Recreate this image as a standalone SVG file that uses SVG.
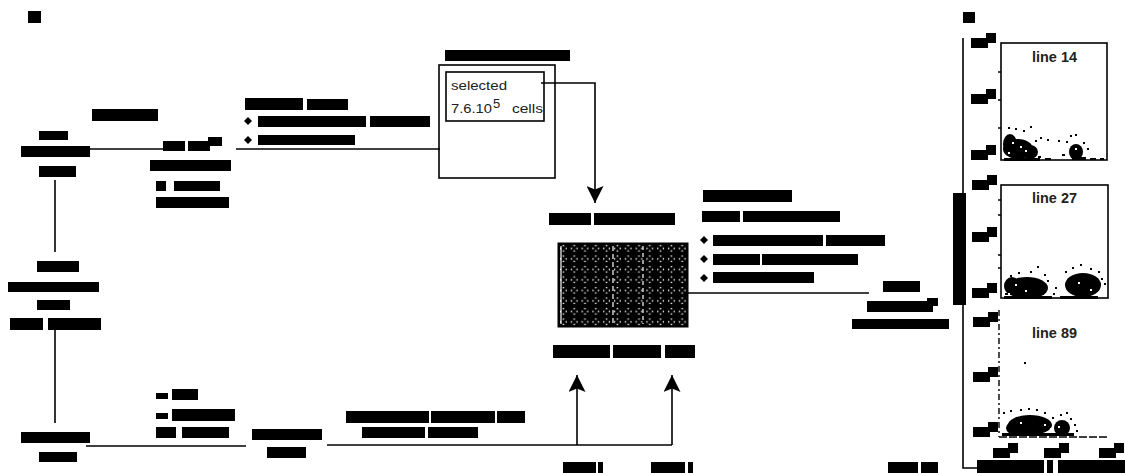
<svg xmlns="http://www.w3.org/2000/svg" width="1125" height="473" viewBox="0 0 1125 473">
<style>
.r{fill:#000}
.ln{stroke:#000;stroke-width:1.6;fill:none}
.bx{stroke:#000;stroke-width:1.6;fill:none}
.t{font-family:"Liberation Sans",Arial,sans-serif;fill:#222;font-size:13px}
.pl{font-family:"Liberation Sans",Arial,sans-serif;fill:#222;font-size:14px;font-weight:bold}
.dot{fill:#000}
</style>
<defs>
<marker id="ah" viewBox="0 0 10 10" refX="10" refY="5" markerUnits="userSpaceOnUse" markerWidth="17" markerHeight="17" orient="auto">
<path d="M0,0 L10,5 L0,10 L2,5 z" fill="#000"/>
</marker>
<pattern id="wells" x="558" y="243" width="10.8" height="10.5" patternUnits="userSpaceOnUse">
<rect width="10.8" height="10.5" fill="#000"/>
<rect x="4.6" y="2" width="1.6" height="1.2" fill="#fff"/>
<rect x="4.6" y="7.4" width="1.6" height="1.2" fill="#fff"/>
<rect x="2" y="4.6" width="1.2" height="1.6" fill="#fff"/>
<rect x="7.6" y="4.6" width="1.2" height="1.6" fill="#fff"/>
</pattern>
<g id="tl">
<rect x="0" y="5" width="17" height="10"/>
<rect x="15" y="0" width="10" height="10"/>
</g>
</defs>
<rect width="1125" height="473" fill="#fff"/>

<!-- panel labels -->
<rect class="r" x="28" y="11" width="13" height="12"/>
<rect class="r" x="963" y="12" width="12" height="11"/>

<g id="connectors">
<line class="ln" x1="90" y1="149" x2="163" y2="149"/>
<line class="ln" x1="236" y1="149" x2="440" y2="149"/>
<polyline class="ln" points="541,83 595,83 595,203" marker-end="url(#ah)"/>
<line class="ln" x1="55" y1="180" x2="55" y2="252"/>
<line class="ln" x1="55" y1="330" x2="55" y2="423"/>
<line class="ln" x1="86" y1="446" x2="246" y2="446"/>
<line class="ln" x1="327" y1="445" x2="672" y2="445"/>
<line class="ln" x1="672" y1="445" x2="672" y2="375" marker-end="url(#ah)"/>
<line class="ln" x1="577" y1="445" x2="577" y2="375" marker-end="url(#ah)"/>
<line class="ln" x1="688" y1="293" x2="869" y2="293"/>
<polyline class="ln" points="963,38 963,468 977,468"/>
</g>

<g id="node-seeding-label">
<rect class="r" x="92" y="109" width="66" height="12"/>
</g>
<g id="node-start-cells">
<rect class="r" x="39" y="131" width="29" height="9"/>
<rect class="r" x="21" y="146" width="69" height="11"/>
<rect class="r" x="39" y="166" width="37" height="11"/>
</g>
<g id="node-seeded">
<rect class="r" x="163" y="141" width="22" height="10"/>
<rect class="r" x="188" y="141" width="22" height="10"/>
<rect class="r" x="208" y="137" width="14" height="9"/>
<rect class="r" x="150" y="160" width="81" height="11"/>
<rect class="r" x="156" y="181" width="10" height="10"/>
<rect class="r" x="174" y="181" width="46" height="10"/>
<rect class="r" x="156" y="197" width="73" height="11"/>
</g>
<g id="node-activating-label">
<rect class="r" x="245" y="98" width="58" height="12"/>
<rect class="r" x="307" y="99" width="41" height="11"/>
<path class="r" d="M244,121 l4,-4 l4,4 l-4,4 z"/>
<rect class="r" x="258" y="116" width="108" height="11"/>
<rect class="r" x="370" y="116" width="60" height="11"/>
<path class="r" d="M244,140 l4,-4 l4,4 l-4,4 z"/>
<rect class="r" x="258" y="135" width="97" height="10"/>
</g>

<g id="node-magnetic">
<rect class="r" x="445" y="50" width="125" height="11"/>
<rect class="bx" x="439" y="65" width="116" height="113"/>
<rect class="bx" x="446" y="72" width="98" height="49"/>
<text class="t" x="451" y="90" textLength="56" lengthAdjust="spacingAndGlyphs">selected</text>
<text class="t" x="451" y="113" textLength="41" lengthAdjust="spacingAndGlyphs">7.6.10</text>
<text class="t" x="493" y="108" font-size="10">5</text>
<text class="t" x="512" y="113" textLength="31" lengthAdjust="spacingAndGlyphs">cells</text>
</g>

<g id="node-plate">
<rect class="r" x="549" y="213" width="42" height="12"/>
<rect class="r" x="594" y="213" width="81" height="12"/>
<rect x="558" y="243" width="130" height="84" fill="url(#wells)" stroke="#000" stroke-width="1"/>
<line x1="561" y1="246" x2="561" y2="324" stroke="#fff" stroke-width="1.2"/>
<line x1="613" y1="246" x2="613" y2="324" stroke="#fff" stroke-width="1.2" stroke-dasharray="5,3"/>
<line x1="643" y1="246" x2="643" y2="324" stroke="#fff" stroke-width="1.2" stroke-dasharray="4,3"/>
<rect class="r" x="553" y="345" width="57" height="13"/>
<rect class="r" x="613" y="345" width="48" height="13"/>
<rect class="r" x="665" y="345" width="30" height="13"/>
</g>

<g id="node-activated-label">
<rect class="r" x="703" y="190" width="89" height="12"/>
<rect class="r" x="702" y="211" width="38" height="11"/>
<rect class="r" x="743" y="211" width="97" height="11"/>
<path class="r" d="M700,240 l4,-4 l4,4 l-4,4 z"/>
<rect class="r" x="713" y="235" width="110" height="11"/>
<rect class="r" x="826" y="235" width="59" height="11"/>
<path class="r" d="M700,259 l4,-4 l4,4 l-4,4 z"/>
<rect class="r" x="713" y="254" width="47" height="11"/>
<rect class="r" x="762" y="254" width="96" height="11"/>
<path class="r" d="M700,278 l4,-4 l4,4 l-4,4 z"/>
<rect class="r" x="713" y="272" width="101" height="11"/>
</g>

<g id="node-clones">
<rect class="r" x="883" y="281" width="37" height="11"/>
<rect class="r" x="867" y="301" width="66" height="11"/>
<rect class="r" x="927" y="298" width="11" height="8"/>
<rect class="r" x="852" y="319" width="97" height="10"/>
</g>

<g id="node-small-cells">
<rect class="r" x="37" y="261" width="42" height="11"/>
<rect class="r" x="8" y="282" width="91" height="10"/>
<rect class="r" x="37" y="300" width="33" height="10"/>
<rect class="r" x="10" y="318" width="33" height="12"/>
<rect class="r" x="48" y="318" width="53" height="12"/>
</g>
<g id="node-bottom-cells">
<rect class="r" x="21" y="432" width="69" height="11"/>
<rect class="r" x="39" y="452" width="38" height="10"/>
</g>
<g id="node-culture-label">
<rect class="r" x="156" y="393" width="12" height="6"/>
<rect class="r" x="172" y="389" width="26" height="11"/>
<rect class="r" x="156" y="413" width="12" height="6"/>
<rect class="r" x="172" y="409" width="63" height="12"/>
<rect class="r" x="156" y="427" width="20" height="11"/>
<rect class="r" x="182" y="427" width="47" height="11"/>
</g>
<g id="node-feeder">
<rect class="r" x="252" y="429" width="70" height="11"/>
<rect class="r" x="267" y="447" width="39" height="11"/>
</g>
<g id="node-activation-label">
<rect class="r" x="346" y="411" width="83" height="12"/>
<rect class="r" x="431" y="411" width="64" height="12"/>
<rect class="r" x="497" y="411" width="28" height="12"/>
<rect class="r" x="362" y="427" width="63" height="11"/>
<rect class="r" x="428" y="427" width="50" height="11"/>
</g>
<g id="node-bottom-marks">
<rect class="r" x="563" y="462" width="33" height="11"/>
<rect class="r" x="598" y="462" width="5" height="11"/>
<rect class="r" x="651" y="462" width="34" height="11"/>
<rect class="r" x="688" y="462" width="5" height="11"/>
<rect class="r" x="888" y="462" width="30" height="11"/>
<rect class="r" x="921" y="462" width="17" height="11"/>
</g>

<g id="node-facs-axes">
<rect class="r" x="953" y="193" width="13" height="112"/>
<rect class="r" x="977" y="460" width="67" height="13"/>
<rect class="r" x="1047" y="460" width="6" height="13"/>
<rect class="r" x="1058" y="460" width="67" height="13"/>
</g>

<g id="node-plot-line14">
<use href="#tl" x="971" y="33"/>
<use href="#tl" x="971" y="89"/>
<use href="#tl" x="971" y="145"/>
<rect class="bx" x="1001" y="43" width="106" height="117"/>
<path class="ln" d="M998,72 h3 M998,100 h3 M998,128 h3" stroke-width="1.2"/>
<text class="pl" x="1032" y="62" textLength="45" lengthAdjust="spacingAndGlyphs">line 14</text>
<ellipse class="dot" cx="1018" cy="149" rx="15" ry="10"/>
<ellipse class="dot" cx="1010" cy="144" rx="7" ry="10"/>
<ellipse class="dot" cx="1030" cy="152" rx="8" ry="7"/>
<ellipse class="dot" cx="1076" cy="152" rx="7" ry="8"/>
<path class="dot" d="M1004,158h36v3h-36z M1072,157h14v3h-14z M1008,127h2v2h-2z M1015,128h2v2h-2z M1030,126h2v2h-2z M1023,130h2v2h-2z M1035,140h2v2h-2z M1040,137h2v2h-2z M1047,139h2v2h-2z M1058,140h2v2h-2z M1066,141h2v2h-2z M1070,135h2v2h-2z M1075,134h2v2h-2z M1083,142h2v2h-2z M1087,148h2v2h-2z M1062,154h3v2h-3z M1038,156h3v2h-3z M1045,158h6v2h-6z M1090,158h6v2h-6z M1100,158h4v2h-4z"/>
<path d="M1012,142h2v2h-2z M1020,146h2v2h-2z M1008,152h2v2h-2z M1025,150h2v2h-2z M1075,148h2v2h-2z" fill="#fff"/>
</g>

<g id="node-plot-line27">
<use href="#tl" x="972" y="175"/>
<use href="#tl" x="972" y="227"/>
<use href="#tl" x="972" y="283"/>
<rect class="bx" x="1001" y="185" width="107" height="113"/>
<path class="ln" d="M998,200 h3 M998,215 h3 M998,255 h3 M998,268 h3" stroke-width="1.2"/>
<text class="pl" x="1032" y="203" textLength="45" lengthAdjust="spacingAndGlyphs">line 27</text>
<ellipse class="dot" cx="1027" cy="288" rx="21" ry="11"/>
<ellipse class="dot" cx="1012" cy="286" rx="8" ry="9"/>
<ellipse class="dot" cx="1083" cy="285" rx="18" ry="12"/>
<path class="dot" d="M1004,296h48v3h-48z M1060,296h38v3h-38z M1010,275h2v2h-2z M1018,272h2v2h-2z M1030,271h2v2h-2z M1037,266h2v2h-2z M1044,274h2v2h-2z M1047,280h2v2h-2z M1065,271h2v2h-2z M1072,267h2v2h-2z M1080,264h2v2h-2z M1090,268h2v2h-2z M1098,271h2v2h-2z M1101,278h2v2h-2z M1104,283h2v2h-2z M1055,287h2v2h-2z M1053,293h2v2h-2z M1005,293h3v2h-3z"/>
<path d="M1015,284h2v2h-2z M1025,290h2v2h-2z M1008,293h2v2h-2z M1078,282h2v2h-2z M1090,289h2v2h-2z" fill="#fff"/>
</g>

<g id="node-plot-line89">
<use href="#tl" x="973" y="312"/>
<use href="#tl" x="973" y="367"/>
<use href="#tl" x="973" y="422"/>
<line x1="999" y1="310" x2="999" y2="437" stroke="#000" stroke-width="1.4" stroke-dasharray="6,3,2,3"/>
<line x1="999" y1="437" x2="1107" y2="437" stroke="#000" stroke-width="1.4" stroke-dasharray="8,2"/>
<use href="#tl" x="993" y="443"/>
<use href="#tl" x="1044" y="443"/>
<use href="#tl" x="1099" y="443"/>
<text class="pl" x="1032" y="338" textLength="45" lengthAdjust="spacingAndGlyphs">line 89</text>
<rect class="dot" x="1024" y="362" width="2" height="2"/>
<ellipse class="dot" cx="1030" cy="425" rx="22" ry="10"/>
<ellipse class="dot" cx="1016" cy="428" rx="10" ry="7"/>
<ellipse class="dot" cx="1062" cy="428" rx="8" ry="8"/>
<path class="dot" d="M1002,433h72v3h-72z M1003,412h2v2h-2z M1010,410h2v2h-2z M1020,409h2v2h-2z M1028,408h2v2h-2z M1036,409h2v2h-2z M1044,412h2v2h-2z M1052,417h2v2h-2z M1060,414h2v2h-2z M1066,412h2v2h-2z M1070,418h2v2h-2z M1074,424h2v2h-2z M1076,430h2v2h-2z"/>
<path d="M1044,424h2v2h-2z M1050,428h2v2h-2z M1058,426h2v2h-2z M1020,422h2v2h-2z" fill="#fff"/>
</g>
</svg>
